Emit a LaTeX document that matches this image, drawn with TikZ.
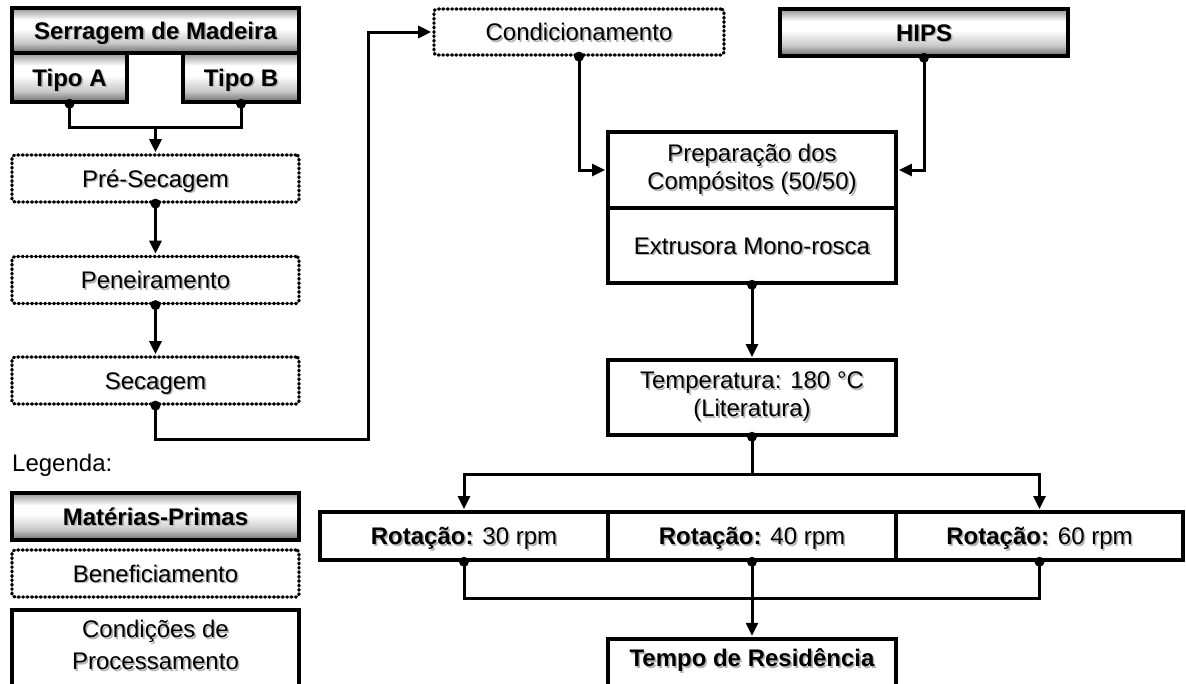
\documentclass[tikz,border=0pt]{standalone}
\usepackage{fontspec}
\setmainfont{Liberation Sans}
\usetikzlibrary{arrows.meta,fadings}

% grey-white-grey band used for the raw material boxes
\pgfdeclareverticalshading{rawv}{100bp}{color(0bp)=(black!58); color(25bp)=(black!58); color(36bp)=(black!22); color(52bp)=(white); color(62bp)=(white); color(75bp)=(black!42); color(100bp)=(black!42)}
% opacity mask that darkens only the two ends of those boxes
\pgfdeclarehorizontalshading{edgeshade}{100bp}{color(0bp)=(white!50!black); color(3bp)=(black); color(97bp)=(black); color(100bp)=(white!50!black)}
\pgfdeclarefading{edges}{\pgfuseshading{edgeshade}}

% text with a soft grey drop shadow
\newcommand\shd[1]{\leavevmode\rlap{\kern1.6pt\raisebox{-1.6pt}{\textcolor{black!30}{#1}}}#1}

\begin{document}
\begin{tikzpicture}[x=1pt,y=-1pt,
  every node/.style={inner sep=0pt,font=\fontsize{24}{28}\selectfont},
  frame/.style={draw,line width=3.5pt,minimum width=288pt,minimum height=47pt},
  oneline/.style={text height=17pt,text depth=0pt},
  raw/.style={frame,oneline,font=\fontsize{24}{28}\selectfont\bfseries,shading=rawv,
    path picture={\fill[black,path fading=edges,fit fading=true]
      (path picture bounding box.south west) rectangle (path picture bounding box.north east);}},
  prep/.style={draw,line width=3.2pt,dash pattern=on 1pt off 3.4pt,line cap=round,
    rounded corners=3pt,minimum width=287pt,minimum height=47pt,oneline},
  proc/.style={frame,fill=white},
  link/.style={line width=3pt},
  arr/.style={link,-{Triangle[length=13pt,width=12pt]},shorten >=1.2pt}
]
\useasboundingbox (0,0) rectangle (1186,683);
\fill[white] (0,0) rectangle (1186,683);
\clip (0,0) rectangle (1186,683);

% raw material: sawdust and its two types
\node[raw,minimum width=287pt,minimum height=45pt] (serr) at (155.5,30.5) {\shd{Serragem de Madeira}};
\node[raw,minimum width=115pt,minimum height=49pt] (tA) at (69.5,77.5) {\shd{Tipo A}};
\node[raw,minimum width=116pt,minimum height=49pt] (tB) at (241,77.5) {\shd{Tipo B}};

% treatment steps
\node[prep] (pre) at (155.5,178.5) {\shd{Pré-Secagem}};
\node[prep] (pen) at (155.5,280) {\shd{Peneiramento}};
\node[prep] (sec) at (155.5,380.5) {\shd{Secagem}};
\node[prep,minimum width=290pt,minimum height=46pt] (cond) at (579,32) {\shd{Condicionamento}};

% polymer
\node[raw,minimum width=288pt,minimum height=47pt] (hips) at (924,32.5) {\shd{HIPS}};

% processing
\node[proc,align=center,minimum height=76pt] (prepA) at (752,170) {\shd{Preparação dos}\\\shd{Compósitos (50/50)}};
\node[proc,oneline,minimum height=75pt] (prepB) at (752,245.5) {\shd{Extrusora Mono-rosca}};
\node[proc,align=center,minimum height=75pt] (temp) at (752,397.5) {\shd{Temperatura: 180 °C}\\\shd{(Literatura)}};
\node[proc,oneline,minimum height=48pt] (r30) at (464,536) {\shd{\textbf{Rotação:} 30 rpm}};
\node[proc,oneline,minimum height=48pt] (r40) at (752,536) {\shd{\textbf{Rotação:} 40 rpm}};
\node[proc,oneline,minimum width=287pt,minimum height=48pt] (r60) at (1039.5,536) {\shd{\textbf{Rotação:} 60 rpm}};
\node[proc,minimum height=80pt,anchor=north] (tempo) at (752,637) {};
\node[oneline,font=\fontsize{24}{28}\selectfont\bfseries] (tempotxt) at (752,658) {\shd{Tempo de Residência}};

% legend
\node[oneline,anchor=west] (leg) at (12,463) {Legenda:};
\node[raw,minimum width=287pt] (lmat) at (155.5,516.5) {\shd{Matérias-Primas}};
\node[prep] (lben) at (155.5,573.5) {\shd{Beneficiamento}};
\node[proc,minimum width=287pt,minimum height=90pt,anchor=north] (lcond) at (155.5,608) {};
\node[align=center,font=\fontsize{24}{32}\selectfont] (lcondtxt) at (155.5,646) {\shd{Condições de}\\\shd{Processamento}};

% connectors
\coordinate (j1) at (155.5,127);
\draw[link] (tA.south) |- (j1) -| (tB.south);
\draw[arr] (j1) -- (pre.north);
\draw[arr] (pre.south) -- (pen.north);
\draw[arr] (pen.south) -- (sec.north);
\coordinate (c1) at (368,439);
\draw[arr] (sec.south) |- (c1) |- (cond.west);
\draw[arr] (cond.south) |- (prepA.west);
\draw[arr] (hips.south) |- (prepA.east);
\draw[arr] (prepB.south) -- (temp.north);
\coordinate (s1) at (752,474);
\draw[link] (temp.south) -- (s1);
\draw[arr] (s1) -| (r30.north);
\draw[arr] (s1) -| (r60.north);
\coordinate (m1) at (752,598);
\draw[link] (r30.south) |- (m1) -| (r60.south);
\draw[arr] (r40.south) -- (tempo.north);

% start dots
\foreach \n in {tA,tB,pre,pen,sec,cond,hips,prepB,temp,r30,r40,r60}
  \fill (\n.south) circle (5pt);
\end{tikzpicture}
\end{document}
